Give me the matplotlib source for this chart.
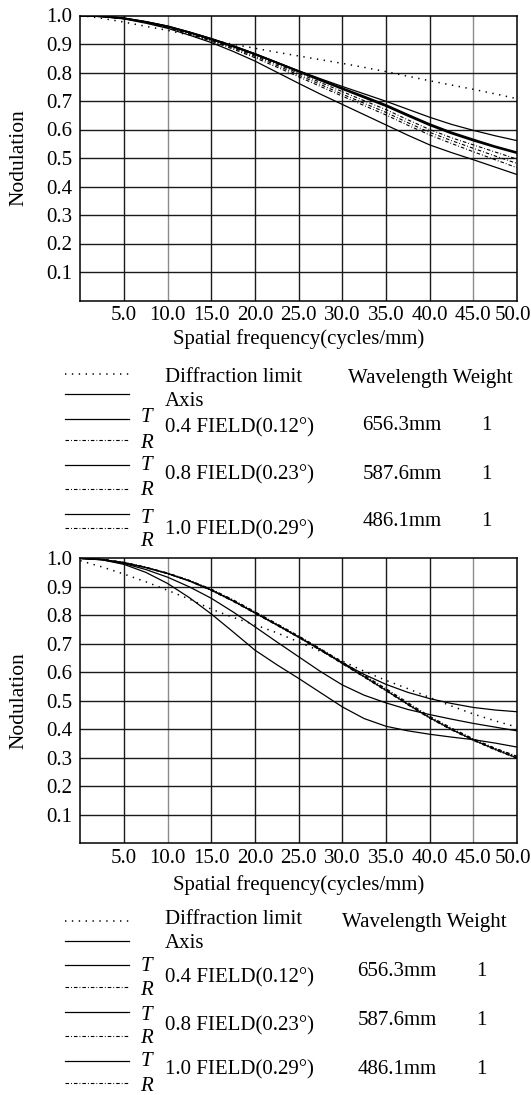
import matplotlib.pyplot as plt
from matplotlib.lines import Line2D
from matplotlib.transforms import ScaledTranslation
import numpy as np

plt.rcParams['font.family'] = ['Liberation Serif', 'DejaVu Serif']
plt.rcParams['font.size'] = 15

freq = np.arange(0, 50.01, 2.5)

# upper MTF chart
top_diffraction = [1.000, 0.990, 0.977, 0.962, 0.948, 0.931, 0.914, 0.899, 0.885, 0.871, 0.858,
                   0.845, 0.832, 0.818, 0.803, 0.787, 0.771, 0.756, 0.741, 0.725, 0.708]
top_axis = [1.000, 0.997, 0.991, 0.978, 0.963, 0.942, 0.919, 0.894, 0.866, 0.836, 0.806,
            0.778, 0.751, 0.725, 0.699, 0.671, 0.643, 0.618, 0.597, 0.578, 0.561]
top_t04 = [1.000, 0.997, 0.990, 0.978, 0.962, 0.941, 0.918, 0.893, 0.865, 0.835, 0.805,
           0.775, 0.745, 0.716, 0.686, 0.652, 0.619, 0.590, 0.565, 0.541, 0.520]
top_r04 = [1.000, 0.997, 0.990, 0.977, 0.960, 0.939, 0.915, 0.889, 0.861, 0.830, 0.797,
           0.765, 0.733, 0.701, 0.670, 0.634, 0.600, 0.571, 0.546, 0.521, 0.496]
top_t08 = [1.000, 0.997, 0.990, 0.977, 0.961, 0.940, 0.917, 0.891, 0.864, 0.834, 0.803,
           0.772, 0.742, 0.712, 0.682, 0.648, 0.615, 0.586, 0.561, 0.538, 0.517]
top_r08 = [1.000, 0.997, 0.989, 0.976, 0.959, 0.937, 0.913, 0.886, 0.857, 0.825, 0.791,
           0.758, 0.724, 0.692, 0.660, 0.624, 0.590, 0.561, 0.534, 0.507, 0.481]
top_t10 = [1.000, 0.996, 0.988, 0.973, 0.955, 0.931, 0.905, 0.874, 0.840, 0.801, 0.762,
           0.724, 0.688, 0.652, 0.616, 0.580, 0.546, 0.519, 0.494, 0.468, 0.442]
top_r10 = [1.000, 0.996, 0.989, 0.975, 0.958, 0.935, 0.910, 0.882, 0.852, 0.819, 0.785,
           0.751, 0.717, 0.684, 0.651, 0.615, 0.581, 0.551, 0.522, 0.494, 0.466]

# lower MTF chart
bot_diffraction = [0.992, 0.970, 0.945, 0.918, 0.888, 0.857, 0.822, 0.793, 0.767, 0.739, 0.707,
                   0.674, 0.640, 0.604, 0.572, 0.543, 0.512, 0.482, 0.454, 0.430, 0.408]
bot_axis = [1.000, 0.996, 0.985, 0.968, 0.947, 0.921, 0.889, 0.851, 0.809, 0.767, 0.724,
            0.680, 0.634, 0.593, 0.558, 0.530, 0.508, 0.491, 0.477, 0.468, 0.462]
bot_t04 = [1.000, 0.996, 0.985, 0.968, 0.947, 0.921, 0.889, 0.851, 0.809, 0.767, 0.724,
           0.679, 0.632, 0.585, 0.537, 0.488, 0.441, 0.400, 0.363, 0.330, 0.300]
bot_r04 = [1.000, 0.997, 0.986, 0.969, 0.949, 0.923, 0.892, 0.855, 0.813, 0.771, 0.728,
           0.683, 0.636, 0.588, 0.540, 0.490, 0.443, 0.402, 0.365, 0.333, 0.304]
bot_t08 = [1.000, 0.995, 0.982, 0.961, 0.934, 0.900, 0.860, 0.812, 0.760, 0.707, 0.655,
           0.603, 0.556, 0.520, 0.493, 0.470, 0.452, 0.436, 0.421, 0.408, 0.395]
bot_r08 = [1.000, 0.996, 0.985, 0.967, 0.946, 0.920, 0.887, 0.849, 0.807, 0.765, 0.722,
           0.677, 0.630, 0.583, 0.535, 0.486, 0.439, 0.398, 0.361, 0.328, 0.298]
bot_t10 = [1.000, 0.995, 0.979, 0.951, 0.912, 0.862, 0.805, 0.742, 0.678, 0.627, 0.579,
           0.529, 0.479, 0.438, 0.411, 0.395, 0.383, 0.373, 0.364, 0.352, 0.338]
bot_r10 = [1.000, 0.997, 0.986, 0.969, 0.948, 0.922, 0.891, 0.853, 0.811, 0.769, 0.726,
           0.682, 0.636, 0.590, 0.543, 0.494, 0.446, 0.405, 0.367, 0.334, 0.306]

x_ticks = [5, 10, 15, 20, 25, 30, 35, 40, 45, 50]
y_ticks = [0.1, 0.2, 0.3, 0.4, 0.5, 0.6, 0.7, 0.8, 0.9, 1.0]

key_labels = ['Diffraction limit', 'Axis', '0.4 FIELD(0.12°)', '0.8 FIELD(0.23°)', '1.0 FIELD(0.29°)']
wavelengths = ['656.3mm', '587.6mm', '486.1mm']
weights = ['1', '1', '1']

W, H = 531, 1095
fig = plt.figure(figsize=(W / 100, H / 100), dpi=100)

DOT = dict(color='black', lw=1.1, dashes=(0.9, 3.6))
SOLID = dict(color='black', lw=0.9)
DASHDOT = dict(color='black', lw=0.8, dashes=(3.2, 1.8, 0.8, 1.8))


def mtf_axes(top_px, series):
    ax = fig.add_axes([80.3 / W, 1 - (top_px + 285.0) / H, 436.7 / W, 285.0 / H])
    for vals, style in series:
        ax.plot(freq, vals, **style)
    ax.set_xlim(0, 50)
    ax.set_ylim(0, 1.0)
    ax.set_xticks(x_ticks)
    ax.set_xticklabels(['%.1f' % v for v in x_ticks])
    ax.set_yticks(y_ticks)
    ax.set_yticklabels(['%.1f' % v for v in y_ticks])
    ax.tick_params(length=0, labelsize=15)
    ax.tick_params(axis='x', pad=4)
    ax.tick_params(axis='y', pad=6)
    # pull the last frequency label back inside the figure edge
    last = ax.get_xticklabels()[-1]
    last.set_transform(last.get_transform() + ScaledTranslation(-4 / 100, 0, fig.dpi_scale_trans))
    for v in x_ticks[:-1]:
        ax.axvline(v, color='#8c8c8c' if v in (10, 45) else '#1a1a1a', lw=1.0, zorder=0)
    for v in y_ticks[:-1]:
        ax.axhline(v, color='#1a1a1a', lw=1.0, zorder=0)
    for s in ax.spines.values():
        s.set_linewidth(1.1)
    ax.set_ylabel('Nodulation', fontsize=15.5)
    ax.yaxis.set_label_coords(-0.118, 0.5)
    ax.set_xlabel('Spatial frequency(cycles/mm)', fontsize=15)
    return ax


ax1 = mtf_axes(15.5, [(top_diffraction, DOT), (top_axis, SOLID), (top_t04, dict(SOLID, lw=1.3)),
                       (top_r04, DASHDOT), (top_t08, dict(SOLID, lw=1.3)), (top_r08, DASHDOT),
                       (top_t10, SOLID), (top_r10, DASHDOT)])
ax1.xaxis.set_label_coords(0.5, -0.1)

ax2 = mtf_axes(558.4, [(bot_diffraction, DOT), (bot_axis, SOLID), (bot_t04, SOLID),
                       (bot_r04, DASHDOT), (bot_t08, SOLID), (bot_r08, DASHDOT),
                       (bot_t10, SOLID), (bot_r10, DASHDOT)])
ax2.xaxis.set_label_coords(0.5, -0.11)

# key blocks drawn in pixel coordinates on a transparent overlay
ov = fig.add_axes([0, 0, 1, 1])
ov.set_xlim(0, W)
ov.set_ylim(H, 0)
ov.axis('off')


def key_block(line_y, label_y, tr_y, wl_y, head_y, wl_x, wt_x, head_x):
    styles = [DOT, SOLID, SOLID, DASHDOT, SOLID, DASHDOT, SOLID, DASHDOT]
    for y, st in zip(line_y, styles):
        ov.add_line(Line2D([64.5, 129], [y, y], **st))
    for y, txt in zip(label_y, key_labels):
        ov.text(165, y, txt, fontsize=15, va='center', ha='left')
    for y, txt in zip(tr_y, ['T', 'R'] * 3):
        ov.text(146, y, txt, fontsize=15, va='center', ha='center', style='italic')
    for y, wl, wt in zip(wl_y, wavelengths, weights):
        ov.text(wl_x, y, wl, fontsize=15, va='center', ha='center')
        ov.text(wt_x, y, wt, fontsize=15, va='center', ha='center')
    ov.text(head_x, head_y, 'Wavelength Weight', fontsize=15, va='center', ha='left')


key_block([374, 394, 419.3, 440.3, 465, 488.7, 514, 528],
          [377, 401, 428, 475, 530],
          [417.6, 443, 465, 490.4, 518.5, 542],
          [426, 474.5, 522], 379, 402, 486, 348)

key_block([920.8, 941, 964.8, 986.8, 1011.5, 1036, 1061.3, 1083.3],
          [919, 944, 977.7, 1025.8, 1069.8],
          [966.5, 990.2, 1015.6, 1038.3, 1061.3, 1086.7],
          [971.6, 1020.7, 1069.8], 922.5, 397, 481, 342)

fig.savefig('out.png', dpi=100)
